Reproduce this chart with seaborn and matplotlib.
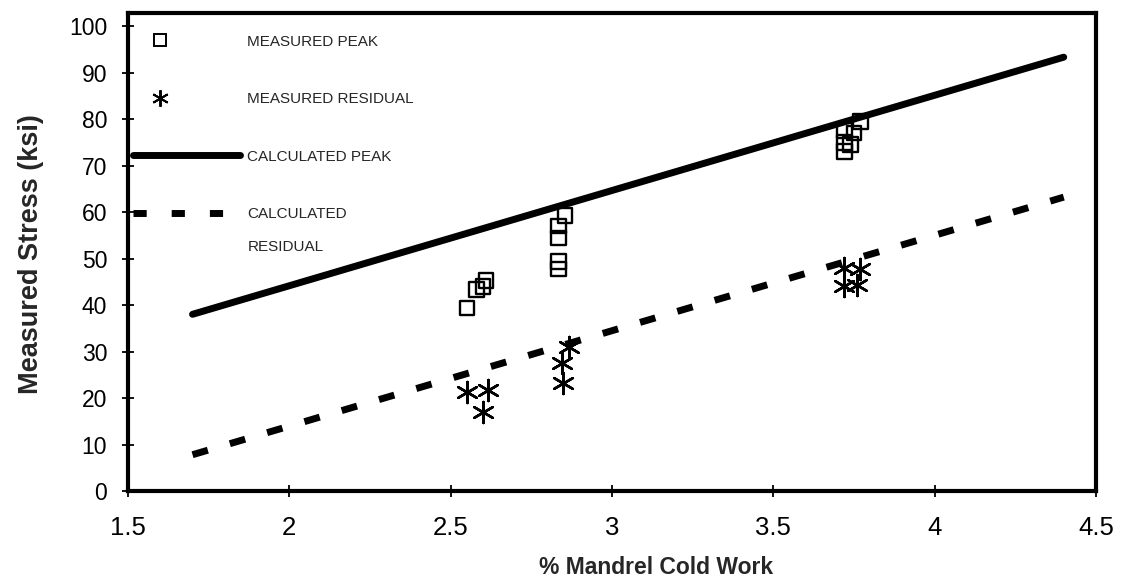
import matplotlib
matplotlib.use("Agg")
import matplotlib.pyplot as plt
from matplotlib.lines import Line2D
from matplotlib.legend_handler import HandlerLine2D
import seaborn as sns
import pandas as pd

# ---- data ----
peak_x = [2.55, 2.58, 2.60, 2.61, 2.835, 2.835, 2.835, 2.835, 2.855,
          3.72, 3.72, 3.72, 3.74, 3.75, 3.77]
peak_y = [39.4, 43.3, 44.0, 45.3, 47.7, 49.3, 54.4, 57.0, 59.3,
          73.0, 75.0, 77.5, 74.5, 77.0, 79.5]
resid_x = [2.55, 2.615, 2.60, 2.845, 2.848, 2.867, 3.72, 3.72, 3.77, 3.76]
resid_y = [21.3, 21.7, 17.0, 27.5, 23.2, 31.0, 48.0, 44.0, 47.8, 44.2]
calc_x = [1.7, 4.4]
calc_peak_y = [38.0, 93.3]
calc_resid_y = [7.8, 63.2]
x_ticks = [1.5, 2, 2.5, 3, 3.5, 4, 4.5]
x_ticklabels = ["1.5", "2", "2.5", "3", "3.5", "4", "4.5"]
y_ticks = [0, 10, 20, 30, 40, 50, 60, 70, 80, 90, 100]
legend_labels = ["MEASURED PEAK", "MEASURED RESIDUAL", "CALCULATED PEAK", "CALCULATED"]
legend_extra = "RESIDUAL"

sns.set_style("white")
plt.rcParams["font.family"] = ["Liberation Sans", "DejaVu Sans"]

fig = plt.figure(figsize=(11.22, 5.85), dpi=100)
ax = fig.add_axes([128 / 1122, (585 - 491) / 585, 968 / 1122, 478 / 585])

df_peak = pd.DataFrame({"x": peak_x, "y": peak_y})
df_res = pd.DataFrame({"x": resid_x, "y": resid_y})
df_cp = pd.DataFrame({"x": calc_x, "y": calc_peak_y})
df_cr = pd.DataFrame({"x": calc_x, "y": calc_resid_y})

LW = 5.0
sns.lineplot(data=df_cp, x="x", y="y", ax=ax, color="black", lw=LW,
             solid_capstyle="round", legend=False, zorder=2)
sns.lineplot(data=df_cr, x="x", y="y", ax=ax, color="black", lw=LW,
             linestyle=(0, (2.3, 3.3)), dash_capstyle="butt", legend=False, zorder=2)
sns.scatterplot(data=df_peak, x="x", y="y", ax=ax, marker="s", s=110,
                facecolors="none", edgecolor="black", linewidth=1.7,
                legend=False, zorder=3)
sns.scatterplot(data=df_res, x="x", y="y", ax=ax, marker=(6, 2, 0), s=230,
                color="black", linewidth=1.8, legend=False, zorder=3)

ax.set_xlim(1.5, 4.5)
ax.set_ylim(0, 102.8)
ax.set_xticks(x_ticks)
ax.set_xticklabels(x_ticklabels)
ax.set_yticks(y_ticks)
ax.tick_params(axis="both", which="major", direction="inout", length=8, width=1.3,
               color="black", labelcolor="black", bottom=True, left=True)
ax.tick_params(axis="x", pad=14, labelsize=18.5)
ax.tick_params(axis="y", pad=11, labelsize=16.5)
for sp in ax.spines.values():
    sp.set_visible(True)
    sp.set_color("black")
    sp.set_linewidth(3)

ax.set_xlabel("% Mandrel Cold Work", fontsize=16.5, fontweight="bold")
ax.xaxis.set_label_coords(0.546, -0.135)
ax.set_ylabel("Measured Stress (ksi)", fontsize=19.5, fontweight="bold")
ax.yaxis.set_label_coords(-0.087, 0.495)


class LeftMarkerHandler(HandlerLine2D):
    """Place the single legend marker a quarter of the way into the handle."""
    def get_xdata(self, legend, xdescent, ydescent, width, height, fontsize):
        xs = [-xdescent, -xdescent + 0.5 * width]
        return xs, [-xdescent + 0.25 * width]


FS = 11
handles = [
    Line2D([], [], linestyle="none", marker="s", markersize=8, markerfacecolor="none",
           markeredgecolor="black", markeredgewidth=1.4),
    Line2D([], [], linestyle="none", marker=(6, 2, 0), markersize=12,
           color="black", markeredgewidth=1.4),
    Line2D([], [], color="black", lw=LW, solid_capstyle="round"),
    Line2D([], [], color="black", lw=LW, linestyle=(0, (1.9, 3.6)),
           dash_capstyle="butt"),
]
mk_handler = LeftMarkerHandler(numpoints=1)
leg = ax.legend(handles, legend_labels, loc="upper left", bbox_to_anchor=(0.005, 0.955),
                frameon=False, borderaxespad=0, borderpad=0, handlelength=7.0,
                handletextpad=0.5, labelspacing=2.85, numpoints=1,
                handler_map={handles[0]: mk_handler, handles[1]: mk_handler},
                prop={"size": FS})
ax.annotate(legend_extra, xy=(0, 0), xycoords=leg.get_texts()[3],
            xytext=(0, -23.5), textcoords="offset points", ha="left", va="bottom",
            fontsize=FS, zorder=10)

fig.savefig("out.png", dpi=100, facecolor="white")
